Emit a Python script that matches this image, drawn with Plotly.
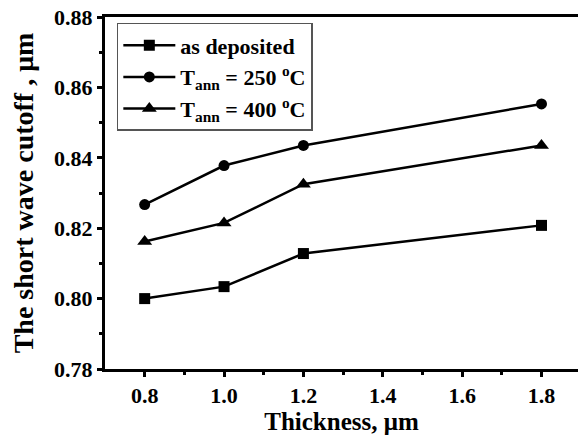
import plotly.graph_objects as go

thickness = [0.8, 1.0, 1.2, 1.8]
as_deposited = [0.8000, 0.8034, 0.8128, 0.8208]
t250 = [0.8267, 0.8378, 0.8435, 0.8553]
t400 = [0.8162, 0.8215, 0.8325, 0.8435]

series_names = ["as deposited", "T<sub>ann</sub> = 250 <sup>o</sup>C", "T<sub>ann</sub> = 400 <sup>o</sup>C"]
series_vals = [as_deposited, t250, t400]
symbols = ["square", "circle", "triangle-up"]

fnt = "Liberation Serif"
fig = go.Figure()
for name, vals, sym in zip(series_names, series_vals, symbols):
    fig.add_trace(go.Scatter(
        x=thickness, y=vals, mode="lines+markers", name=name,
        line=dict(color="black", width=2.5),
        marker=dict(symbol=sym, size=11 if sym != "triangle-up" else 13, color="black"),
    ))

fig.update_layout(
    width=578, height=435,
    margin=dict(l=105, r=0, t=17, b=66, autoexpand=False),
    plot_bgcolor="white", paper_bgcolor="white",
    font=dict(family=fnt, color="black", size=20),
    showlegend=True,
    legend=dict(
        x=0.025, y=0.983, xanchor="left", yanchor="top",
        bordercolor="#555", borderwidth=1.5, bgcolor="white",
        font=dict(family=fnt, size=22, color="black", weight="bold"),
        itemwidth=52, tracegroupgap=0,
    ),
    xaxis=dict(
        range=[0.7, 1.892], tickvals=[0.8, 1.0, 1.2, 1.4, 1.6, 1.8],
        ticktext=["0.8", "1.0", "1.2", "1.4", "1.6", "1.8"],
        showgrid=False, zeroline=False,
        showline=True, linecolor="black", linewidth=3, mirror=True,
        ticks="outside", ticklen=5, tickwidth=2.5, tickcolor="black",
        minor=dict(tickvals=[0.9, 1.1, 1.3, 1.5, 1.7], ticks="outside", ticklen=3, tickwidth=2.5, tickcolor="black"),
        tickfont=dict(family=fnt, size=22, color="black", weight="bold"),
        ticklabeloverflow="allow",
        title=dict(text="Thickness, μm", font=dict(family=fnt, size=25, color="black", weight="bold"), standoff=2),
    ),
    yaxis=dict(
        range=[0.78, 0.88], tickvals=[0.78, 0.80, 0.82, 0.84, 0.86, 0.88],
        ticktext=["0.78", "0.80", "0.82", "0.84", "0.86", "0.88"],
        showgrid=False, zeroline=False,
        showline=True, linecolor="black", linewidth=3, mirror=False,
        ticks="outside", ticklen=5, tickwidth=2.5, tickcolor="black",
        minor=dict(tickvals=[0.79, 0.81, 0.83, 0.85, 0.87], ticks="outside", ticklen=3, tickwidth=2.5, tickcolor="black"),
        tickfont=dict(family=fnt, size=22, color="black", weight="bold"),
        ticklabeloverflow="allow",
        title=dict(text="The short wave cutoff , μm", font=dict(family=fnt, size=28, color="black", weight="bold"), standoff=13),
    ),
)
fig.write_html("out.html", config={"displayModeBar": False},
               post_script="document.body.style.margin='0';")
